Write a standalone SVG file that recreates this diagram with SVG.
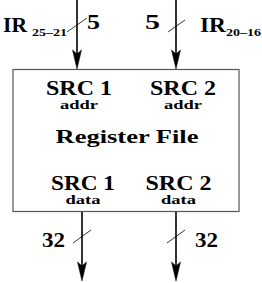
<svg xmlns="http://www.w3.org/2000/svg" width="262" height="283" viewBox="0 0 262 283">
<style>
.big{font-size:20px}
.ir{font-size:22px}
.med{font-size:18px}
.sm{font-size:13px}
.sub{font-size:11px}
.wire{stroke:#000;stroke-width:1.6;fill:none}
.slash{stroke:#000;stroke-width:0.8}
</style>
<g id="connectors">
<line class="wire" x1="77" y1="0" x2="77" y2="55"/>
<path d="M72.5,50 L77,69 L81.5,50 L77,54 Z" fill="#000" stroke="#000" stroke-width="0.5"/>
<line class="wire" x1="176" y1="0" x2="176" y2="55"/>
<path d="M171.5,50 L176,69 L180.5,50 L176,54 Z" fill="#000" stroke="#000" stroke-width="0.5"/>
<line class="wire" x1="82" y1="212" x2="82" y2="267"/>
<path d="M77.5,262 L82,281 L86.5,262 L82,266 Z" fill="#000" stroke="#000" stroke-width="0.5"/>
<line class="wire" x1="176" y1="212" x2="176" y2="267"/>
<path d="M171.5,262 L176,281 L180.5,262 L176,266 Z" fill="#000" stroke="#000" stroke-width="0.5"/>
<line class="slash" x1="67" y1="32" x2="87" y2="18"/>
<line class="slash" x1="168" y1="32" x2="185" y2="20"/>
<line class="slash" x1="73" y1="243" x2="91" y2="230"/>
<line class="slash" x1="167" y1="243" x2="185" y2="230"/>
</g>
<g id="labels" font-family="Liberation Serif, serif" font-weight="bold" fill="#000">
<text class="ir" x="3" y="32" textLength="24" lengthAdjust="spacingAndGlyphs">IR</text>
<text class="sub" x="32" y="36" textLength="35" lengthAdjust="spacingAndGlyphs">25–21</text>
<text class="big" x="87" y="29" textLength="13" lengthAdjust="spacingAndGlyphs">5</text>
<text class="big" x="145" y="29" textLength="15" lengthAdjust="spacingAndGlyphs">5</text>
<text class="ir" x="200" y="32" textLength="26" lengthAdjust="spacingAndGlyphs">IR</text>
<text class="sub" x="226" y="36" textLength="35" lengthAdjust="spacingAndGlyphs">20–16</text>
<text class="big" x="42" y="247" textLength="23" lengthAdjust="spacingAndGlyphs">32</text>
<text class="big" x="195" y="247" textLength="23" lengthAdjust="spacingAndGlyphs">32</text>
</g>
<g id="register-file" font-family="Liberation Serif, serif" font-weight="bold" fill="#000">
<rect x="13" y="69.5" width="226" height="142" fill="#fff" stroke="#555" stroke-width="1.2"/>
<text class="big" x="79" y="95" text-anchor="middle" textLength="66" lengthAdjust="spacingAndGlyphs">SRC 1</text>
<text class="sm" x="79" y="109" text-anchor="middle" textLength="38" lengthAdjust="spacingAndGlyphs">addr</text>
<text class="big" x="183" y="95" text-anchor="middle" textLength="66" lengthAdjust="spacingAndGlyphs">SRC 2</text>
<text class="sm" x="183" y="109" text-anchor="middle" textLength="38" lengthAdjust="spacingAndGlyphs">addr</text>
<text class="med" x="127" y="143" text-anchor="middle" textLength="143" lengthAdjust="spacingAndGlyphs">Register File</text>
<text class="big" x="83" y="190" text-anchor="middle" textLength="64" lengthAdjust="spacingAndGlyphs">SRC 1</text>
<text class="sm" x="83" y="204" text-anchor="middle" textLength="35" lengthAdjust="spacingAndGlyphs">data</text>
<text class="big" x="178.5" y="190" text-anchor="middle" textLength="66" lengthAdjust="spacingAndGlyphs">SRC 2</text>
<text class="sm" x="178.5" y="204" text-anchor="middle" textLength="35" lengthAdjust="spacingAndGlyphs">data</text>
</g>
</svg>
